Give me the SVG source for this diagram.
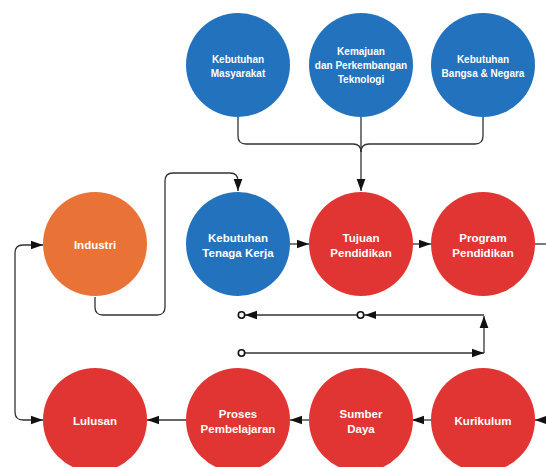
<svg xmlns="http://www.w3.org/2000/svg" width="546" height="467" viewBox="0 0 546 467">
<style>
.blue{fill:#2372BE}
.red{fill:#E03532}
.orange{fill:#E97237}
.t{fill:#fff;font-family:"Liberation Sans",Arial,sans-serif;font-weight:bold;text-anchor:middle}
.s{font-size:10px}
.m{font-size:11.5px}
.ln{fill:none;stroke:#333;stroke-width:1.3}
.dot{fill:#fff;stroke:#111;stroke-width:1.6}
.ah{fill:#111}
</style>
<defs>
<marker id="arr" markerUnits="userSpaceOnUse" markerWidth="12" markerHeight="10" viewBox="0 0 11 8" refX="11" refY="4" orient="auto-start-reverse">
<path d="M0,0 L11,4 L0,8 Z" fill="#111"/>
</marker>
</defs>
<rect width="546" height="467" fill="#fff"/>
<g id="connectors">
<path class="ln" d="M238,117 V136 Q238,144 246,144 H353 Q361,144 361,152"/>
<path class="ln" d="M483,117 V136 Q483,144 475,144 H369 Q361,144 361,152"/>
<path class="ln" d="M361,117 V191" marker-end="url(#arr)"/>
<path class="ln" d="M95,297 V307 Q95,315 103,315 H157 Q165,315 165,307 V181 Q165,173 173,173 H230 Q238,173 238,181 V191" marker-end="url(#arr)"/>
<path class="ln" d="M290,244 H309" marker-end="url(#arr)"/>
<path class="ln" d="M412,244 H431" marker-end="url(#arr)"/>
<path class="ln" d="M535,244 H546"/>
<path class="ln" d="M546,420 H535" marker-end="url(#arr)"/>
<path class="ln" d="M431,420 H412" marker-end="url(#arr)"/>
<path class="ln" d="M309,420 H290" marker-end="url(#arr)"/>
<path class="ln" d="M186,420 H147" marker-end="url(#arr)"/>
<path class="ln" d="M43,245 H23 Q15,245 15,253 V412 Q15,420 23,420 H43" marker-start="url(#arr)" marker-end="url(#arr)"/>
<path class="ln" d="M245,353 H484" marker-end="url(#arr)"/>
<path class="ln" d="M484,353 V316" marker-end="url(#arr)"/>
<path class="ln" d="M484,315 H245" marker-end="url(#arr)"/>
<path class="ah" d="M365,315 L376,311 L376,319 Z"/>
<circle class="dot" cx="241.5" cy="315" r="3.2"/>
<circle class="dot" cx="360.5" cy="315" r="3.2"/>
<circle class="dot" cx="241.5" cy="353" r="3.2"/>
</g>
<g id="kebutuhan-masyarakat">
<circle class="blue" cx="238" cy="65" r="52"/>
<text class="t s" x="238" y="63">Kebutuhan</text>
<text class="t s" x="238" y="77">Masyarakat</text>
</g>
<g id="kemajuan-teknologi">
<circle class="blue" cx="361" cy="65" r="52"/>
<text class="t s" x="361" y="55">Kemajuan</text>
<text class="t s" x="361" y="69">dan Perkembangan</text>
<text class="t s" x="361" y="83">Teknologi</text>
</g>
<g id="kebutuhan-bangsa">
<circle class="blue" cx="483" cy="65" r="52"/>
<text class="t s" x="483" y="63">Kebutuhan</text>
<text class="t s" x="483" y="77">Bangsa &amp; Negara</text>
</g>
<g id="industri">
<circle class="orange" cx="95" cy="244" r="52"/>
<text class="t m" x="95" y="249">Industri</text>
</g>
<g id="kebutuhan-tenaga-kerja">
<circle class="blue" cx="238" cy="244" r="52"/>
<text class="t m" x="238" y="241.5">Kebutuhan</text>
<text class="t m" x="238" y="256.5">Tenaga Kerja</text>
</g>
<g id="tujuan-pendidikan">
<circle class="red" cx="361" cy="244" r="52"/>
<text class="t m" x="361" y="241.5">Tujuan</text>
<text class="t m" x="361" y="256.5">Pendidikan</text>
</g>
<g id="program-pendidikan">
<circle class="red" cx="483" cy="244" r="52"/>
<text class="t m" x="483" y="241.5">Program</text>
<text class="t m" x="483" y="256.5">Pendidikan</text>
</g>
<g id="lulusan">
<circle class="red" cx="95" cy="420" r="52"/>
<text class="t m" x="95" y="425">Lulusan</text>
</g>
<g id="proses-pembelajaran">
<circle class="red" cx="238" cy="420" r="52"/>
<text class="t m" x="238" y="418">Proses</text>
<text class="t m" x="238" y="432.5">Pembelajaran</text>
</g>
<g id="sumber-daya">
<circle class="red" cx="361" cy="420" r="52"/>
<text class="t m" x="361" y="418">Sumber</text>
<text class="t m" x="361" y="432.5">Daya</text>
</g>
<g id="kurikulum">
<circle class="red" cx="483" cy="420" r="52"/>
<text class="t m" x="483" y="425">Kurikulum</text>
</g>
</svg>
